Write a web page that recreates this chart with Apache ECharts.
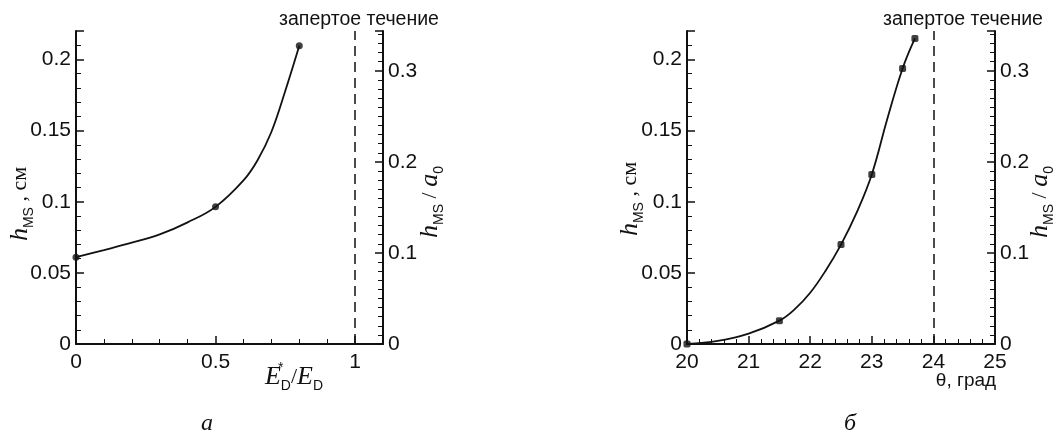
<!DOCTYPE html>
<html><head><meta charset="utf-8">
<script src="https://cdn.jsdelivr.net/npm/echarts@6/dist/echarts.min.js"></script>
<style>html,body{margin:0;padding:0;background:#fff}#c{width:1055px;height:435px}</style>
</head><body><div id="c"></div>
<script>
// ---- panel а : h_MS vs E*_D/E_D ----
const aCurveX = [0, 0.1, 0.2, 0.3, 0.4, 0.5, 0.6, 0.65, 0.7, 0.75, 0.8];
const aCurveY = [0.061, 0.066, 0.0712, 0.077, 0.0855, 0.0964, 0.115, 0.129, 0.149, 0.178, 0.2096];
const aMarkX = [0, 0.5, 0.8];
const aMarkY = [0.061, 0.0964, 0.2096];
const aXTicks = [0, 0.5, 1];
const aLimit = 1; // запертое течение

// ---- panel б : h_MS vs θ ----
const bCurveX = [20, 20.5, 21, 21.5, 21.75, 22, 22.25, 22.5, 22.75, 23, 23.25, 23.5, 23.7];
const bCurveY = [0, 0.0022, 0.0073, 0.0164, 0.0245, 0.036, 0.0515, 0.0699, 0.092, 0.1192, 0.158, 0.1937, 0.2148];
const bMarkX = [20, 21.5, 22.5, 23.0, 23.5, 23.7];
const bMarkY = [0, 0.0164, 0.0699, 0.1192, 0.1937, 0.2148];
const bXTicks = [20, 21, 22, 23, 24, 25];
const bLimit = 24;

const yLeftTicks = [0, 0.05, 0.1, 0.15, 0.2];
const yRightTicks = [0, 0.1, 0.2, 0.3];
const a0 = 0.64; // h_MS/a_0 scale: right axis = left axis / a0
const yMax = 0.22;

const INK = '#111';
const SANS = '"Liberation Sans", Arial, sans-serif';
const SERIF = '"Liberation Serif", "DejaVu Serif", serif';
const LABEL = { color: INK, fontSize: 21, fontFamily: SANS, showMaxLabel: false, margin: 5 };

function pair(xs, ys) { return xs.map((x, i) => [x, ys[i]]); }

function axisBase(extra) {
  return Object.assign({
    type: 'value',
    axisLine: { show: true, onZero: false, lineStyle: { color: INK, width: 2 } },
    axisTick: { show: true, inside: true, length: 8, lineStyle: { color: INK, width: 1.5 } },
    minorTick: { show: true, length: 5, lineStyle: { color: INK, width: 1 } },
    splitLine: { show: false },
    minorSplitLine: { show: false },
    axisLabel: Object.assign({}, LABEL)
  }, extra);
}

const xAxes = [
  axisBase({ gridIndex: 0, min: aXTicks[0], max: 1.1, interval: 0.5,
    minorTick: { show: true, splitNumber: 5, length: 5, lineStyle: { color: INK, width: 1 } },
    axisLabel: Object.assign({}, LABEL, { margin: 8 }) }),
  axisBase({ gridIndex: 1, min: bXTicks[0], max: bXTicks[bXTicks.length - 1], interval: 1,
    minorTick: { show: true, splitNumber: 5, length: 5, lineStyle: { color: INK, width: 1 } },
    axisLabel: Object.assign({}, LABEL, { margin: 8, showMaxLabel: true }) })
];

function yAxesFor(g) {
  return [
    axisBase({ gridIndex: g, position: 'left', min: yLeftTicks[0], max: yMax, interval: 0.05,
      minorTick: { show: true, splitNumber: 5, length: 5, lineStyle: { color: INK, width: 1 } } }),
    axisBase({ gridIndex: g, position: 'right', min: yRightTicks[0], max: yMax / a0, interval: 0.1,
      minorTick: { show: true, splitNumber: 10, length: 5, lineStyle: { color: INK, width: 1 } } })
  ];
}

const yAxes = yAxesFor(0).concat(yAxesFor(1));

const limitLine = (v) => ({
  silent: true, symbol: ['none', 'none'],
  lineStyle: { color: INK, width: 1.5, type: [10, 6] },
  label: { show: false },
  data: [{ xAxis: v }]
});

const curveStyle = { smooth: 0.4, showSymbol: false, lineStyle: { color: INK, width: 1.8 }, z: 3 };

const series = [
  Object.assign({ type: 'line', xAxisIndex: 0, yAxisIndex: 0, data: pair(aCurveX, aCurveY), markLine: limitLine(aLimit) }, curveStyle),
  { type: 'scatter', xAxisIndex: 0, yAxisIndex: 0, data: pair(aMarkX, aMarkY), symbol: 'circle',
    symbolSize: 7, itemStyle: { color: INK }, z: 4 },
  Object.assign({ type: 'line', xAxisIndex: 1, yAxisIndex: 2, data: pair(bCurveX, bCurveY), markLine: limitLine(bLimit) }, curveStyle),
  { type: 'scatter', xAxisIndex: 1, yAxisIndex: 2, data: pair(bMarkX, bMarkY), symbol: 'roundRect',
    symbolSize: 7, itemStyle: { color: INK }, z: 4 }
];

const rich = {
  h: { fontFamily: SERIF, fontStyle: 'italic', fontSize: 26, lineHeight: 32, color: INK },
  a: { fontFamily: SERIF, fontStyle: 'italic', fontSize: 26, lineHeight: 32, color: INK },
  s: { fontFamily: SANS, fontSize: 14, lineHeight: 14, verticalAlign: 'bottom', color: INK },
  sup: { fontFamily: SANS, fontSize: 14, lineHeight: 14, verticalAlign: 'top', color: INK, width: 0 },
  c: { fontFamily: SERIF, fontSize: 22, lineHeight: 32, color: INK }
};

function txt(x, y, text, opts) {
  return Object.assign({
    type: 'text', x: x, y: y, silent: true,
    style: Object.assign({ text: text, fill: INK, align: 'center', verticalAlign: 'middle', rich: rich }, opts && opts.style)
  }, opts && opts.el);
}

const yNameL = '{h|h}{s|MS}{c| , см}';
const yNameR = '{h|h}{s|MS}{c| / }{a|a}{s|0}';

const graphic = [
  txt(359, 20, 'запертое течение', { style: { font: '19.5px ' + SANS } }),
  txt(963, 20, 'запертое течение', { style: { font: '19.5px ' + SANS } }),
  txt(20, 204, yNameL, { el: { rotation: Math.PI / 2 } }),
  txt(430, 202, yNameR, { el: { rotation: Math.PI / 2 } }),
  txt(630, 199, yNameL, { el: { rotation: Math.PI / 2 } }),
  txt(1040, 202, yNameR, { el: { rotation: Math.PI / 2 } }),
  txt(294, 377, '{h|E}{sup|*}{s|D}{c|/}{h|E}{s|D}'),
  txt(966, 381, 'θ, град', { style: { font: '19px ' + SANS } }),
  txt(207, 424, 'а', { style: { font: 'italic 24px ' + SERIF } }),
  txt(850, 424, 'б', { style: { font: 'italic 24px ' + SERIF } })
];

const chart = echarts.init(document.getElementById('c'), null, { renderer: 'canvas' });
chart.setOption({
  animation: false,
  backgroundColor: '#fff',
  grid: [
    { left: 76, top: 31, width: 307, height: 313 },
    { left: 687, top: 31, width: 308, height: 313 }
  ],
  xAxis: xAxes,
  yAxis: yAxes,
  series: series,
  graphic: graphic
});
</script>
</body></html>
